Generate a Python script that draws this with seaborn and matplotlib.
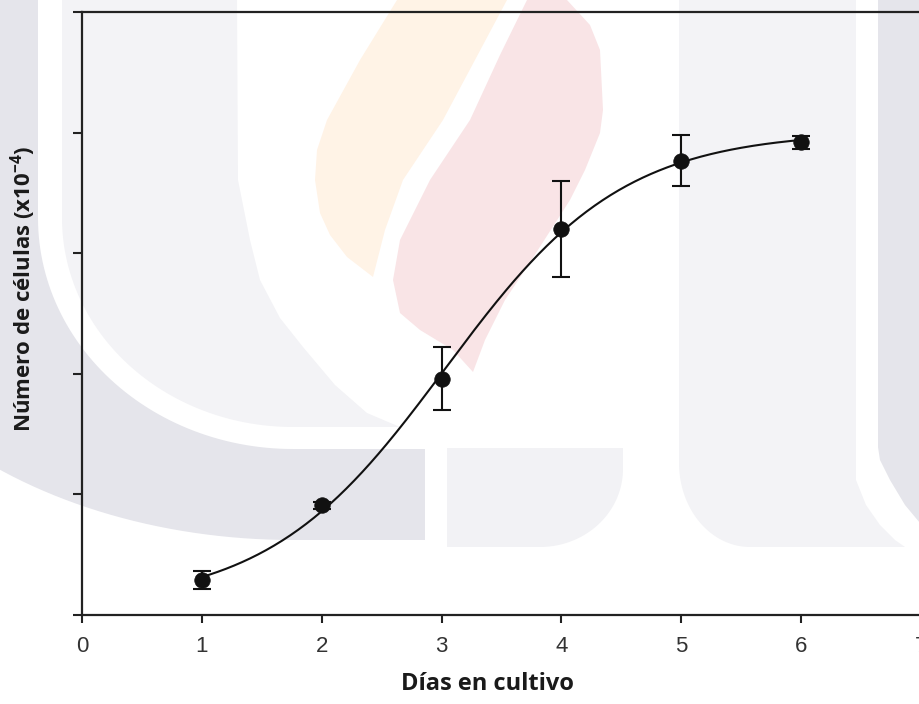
import numpy as np
import pandas as pd
import matplotlib
matplotlib.use("Agg")
import matplotlib.pyplot as plt
from matplotlib.patches import Polygon
import seaborn as sns

# ---------------- data ----------------
dias = [1, 2, 3, 4, 5, 6]
celulas = [0.29, 0.91, 1.96, 3.20, 3.77, 3.92]
error = [0.075, 0.03, 0.26, 0.40, 0.21, 0.055]
x_ticks = [0, 1, 2, 3, 4, 5, 6, 7]
y_ticks = [0, 1, 2, 3, 4, 5]
x_label = "Días en cultivo"
y_label = "Número de células (x10$^{-4}$)"

df = pd.DataFrame({"dias": dias, "celulas": celulas, "error": error})

# ---- sigmoidal regression (4-parameter logistic) fitted to the data ----
xv = np.asarray(dias, float)
yv = np.asarray(celulas, float)
X0, B = np.meshgrid(np.linspace(2.0, 4.5, 501), np.linspace(0.3, 1.5, 241))
S = 1.0 / (1.0 + np.exp(-(xv[None, None, :] - X0[..., None]) / B[..., None]))
Sm = S.mean(-1)
ym = yv.mean()
A = ((S - Sm[..., None]) * (yv - ym)).sum(-1) / ((S - Sm[..., None]) ** 2).sum(-1)
Y0 = ym - A * Sm
res = ((Y0[..., None] + A[..., None] * S - yv) ** 2).sum(-1)
i, j = np.unravel_index(res.argmin(), res.shape)
x0, b, a, y0 = X0[i, j], B[i, j], A[i, j], Y0[i, j]
xs = np.linspace(min(dias), max(dias), 300)
fit = pd.DataFrame({"dias": xs, "celulas": y0 + a / (1 + np.exp(-(xs - x0) / b))})

# ---------------- figure ----------------
sns.set_theme(style="ticks")
plt.rcParams["font.family"] = ["Liberation Sans", "DejaVu Sans"]
plt.rcParams["mathtext.default"] = "regular"

W, H = 920, 704
fig = plt.figure(figsize=(W / 100, H / 100), dpi=100, facecolor="white")

# background watermark (pixel coordinates of the image)
bg = fig.add_axes([0, 0, 1, 1], zorder=0)
bg.set_xlim(0, W)
bg.set_ylim(H, 0)
bg.axis("off")

DARK = "#e5e5eb"
LIGHT = "#f3f3f6"
ORANGE = "#fff3e6"
PINK = "#f9e4e6"


def arc(cx, cy, rx, ry, t0, t1, n=60):
    t = np.linspace(t0, t1, n)
    return np.column_stack([cx - rx * np.cos(t), cy + ry * np.sin(t)])


def poly(pts, color):
    bg.add_patch(Polygon(np.asarray(pts, float), closed=True, facecolor=color,
                         edgecolor="none"))


# left dark band
inner = arc(293, 218, 255, 231, 0, np.pi / 2)
outer = arc(293, 218, 470, 322, np.pi / 2, 0)
pts = [(-200, 0), (38, 0)] + list(inner) + [(425, 449), (425, 540)] + list(outer) + [(-200, 218)]
poly(pts, DARK)

# left light region
inner2 = arc(293, 218, 231, 209, np.pi / 2, 0)
pts = [(62, 0), (237, 0), (238, 180), (250, 240), (260, 280), (280, 318), (303, 347),
       (335, 385), (367, 413), (400, 427), (293, 427)] + list(inner2) + [(62, 0)]
poly(pts, LIGHT)

# middle bottom block
corner = arc(540, 469, -83, 78, np.pi / 2, 0)
pts = [(447, 448), (623, 448), (623, 469)] + list(corner[::-1][::-1]) + [(447, 547)]
corner = [(540 + 83 * np.cos(t), 469 + 78 * np.sin(t)) for t in np.linspace(0, np.pi / 2, 40)]
pts = [(447, 448), (623, 448)] + corner + [(447, 547)]
poly(pts, "#f2f2f5")

# right light region
bl = [(750 - 71 * np.cos(t), 463 + 84 * np.sin(t)) for t in np.linspace(0, np.pi / 2, 40)]
pts = [(679, 0), (856, 0), (856, 480), (866, 505), (880, 525), (895, 540), (905, 547)] \
      + bl[::-1] + [(679, 463)]
poly(pts, LIGHT)

# right dark strip
pts = [(878, 0), (920, 0), (920, 523), (905, 505), (890, 480), (880, 460), (878, 447)]
poly(pts, DARK)

# orange flame
pts = [(397, 0), (507, 0), (475, 60), (443, 120), (403, 180), (385, 230), (373, 277),
       (347, 257), (330, 235), (320, 213), (315, 180), (317, 150), (327, 120), (360, 60)]
poly(pts, ORANGE)

# pink flame
pts = [(527, 0), (567, 0), (590, 25), (600, 50), (603, 110), (600, 133), (585, 170),
       (570, 200), (527, 267), (505, 300), (485, 340), (473, 372), (453, 350),
       (420, 330), (400, 313), (393, 280), (400, 240), (430, 180), (470, 120), (500, 55)]
poly(pts, PINK)

# main axes
ax = fig.add_axes([82 / W, 1 - 615 / H, 839 / W, (615 - 12.3) / H], zorder=1)
ax.set_facecolor("none")

ax.errorbar(df["dias"], df["celulas"], yerr=df["error"], fmt="none", ecolor="#111111",
            elinewidth=1.5, capsize=6.5, capthick=1.5, zorder=3)
sns.lineplot(data=fit, x="dias", y="celulas", ax=ax, color="#111111", linewidth=1.5,
             zorder=2)
sns.scatterplot(data=df, x="dias", y="celulas", ax=ax, color="#111111", s=125,
                edgecolor="#111111", linewidth=0.5, zorder=4)

ax.set_xlim(0, 7)
ax.set_ylim(0, 5)
ax.set_xticks(x_ticks)
ax.set_yticks(y_ticks)
ax.set_xticklabels([str(t) for t in x_ticks])
ax.tick_params(axis="x", direction="out", length=6, width=1.5, colors="#222222",
               labelsize=16, pad=9, labelcolor="#333333")
ax.tick_params(axis="y", direction="out", length=6.5, width=1.5, colors="#222222",
               labelleft=False)
ax.set_xlabel("")
ax.set_ylabel("")
for side in ["left", "bottom", "top"]:
    ax.spines[side].set_linewidth(1.6)
    ax.spines[side].set_color("#222222")
ax.spines["right"].set_visible(False)

fig.text(487.5 / W, 1 - 690 / H, x_label, ha="center", va="baseline", fontsize=17,
         fontweight="bold", family=["Open Sans", "DejaVu Sans"], color="#1a1a1a")
fig.text(23 / W, 1 - 289 / H, y_label, ha="center", va="center", rotation=90,
         fontsize=16, fontweight="bold", family=["Open Sans", "DejaVu Sans"],
         color="#1a1a1a")

fig.savefig("out.png", dpi=100, facecolor="white")
